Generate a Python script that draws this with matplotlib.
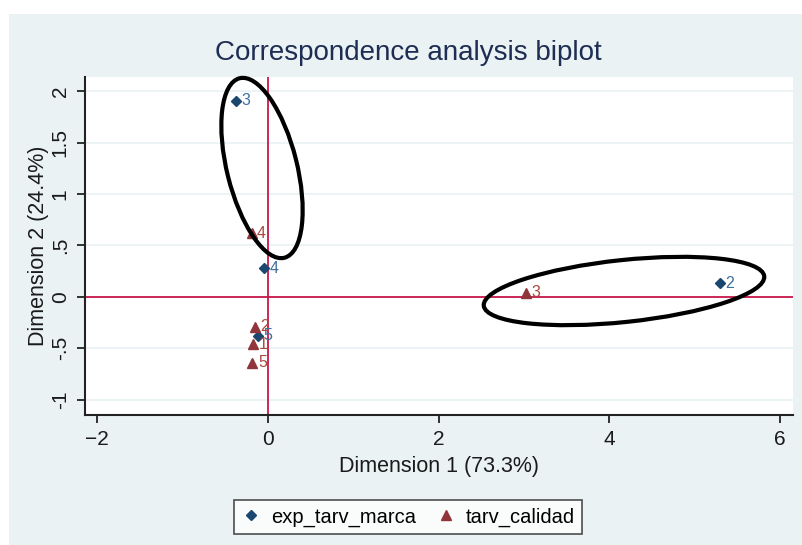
import matplotlib.pyplot as plt
from matplotlib.patches import Ellipse, Rectangle

plt.rcParams['font.family'] = ['Liberation Sans', 'DejaVu Sans']

# exp_tarv_marca (row points)
marca_lbl = ['3', '4', '5', '2']
marca_x = [-0.37, -0.04, -0.12, 5.29]
marca_y = [1.91, 0.28, -0.38, 0.13]

# tarv_calidad (column points)
calidad_lbl = ['4', '3', '2', '1', '5']
calidad_x = [-0.19, 3.02, -0.15, -0.17, -0.18]
calidad_y = [0.62, 0.04, -0.29, -0.46, -0.64]

xticks = [-2, 0, 2, 4, 6]
yticks = [-1, -0.5, 0, 0.5, 1, 1.5, 2]
ytick_lbl = ['-1', '-.5', '0', '.5', '1', '1.5', '2']

blue = '#1a476f'
red = '#90353b'
ref = '#c8174a'

fig = plt.figure(figsize=(8.02, 5.45), dpi=100)
fig.patch.set_facecolor('white')
fig.add_artist(Rectangle((9 / 802, 0), 1, (545 - 14) / 545, transform=fig.transFigure,
                         facecolor='#eaf2f3', edgecolor='none', zorder=-5))

ax = fig.add_axes([85 / 802, (545 - 415) / 545, (793 - 85) / 802, (415 - 77) / 545])
ax.set_facecolor('white')
ax.set_xlim(-2.14, 6.15)
ax.set_ylim(-1.15, 2.14)

for y in yticks:
    ax.axhline(y, color='#eaf2f3', lw=1.2, zorder=0)
ax.axhline(0, color=ref, lw=1.3, zorder=1)
ax.axvline(0, color=ref, lw=1.3, zorder=1)

ax.plot(marca_x, marca_y, 'D', color=blue, ms=5.5, ls='none', zorder=3, label='exp_tarv_marca')
ax.plot(calidad_x, calidad_y, '^', color=red, ms=7, ls='none', zorder=3, label='tarv_calidad')

for x, y, t in zip(marca_x, marca_y, marca_lbl):
    ax.annotate(t, (x, y), xytext=(4, 0), textcoords='offset points', va='center',
                ha='left', color='#3f6f9f', fontsize=11.5, zorder=4)
for x, y, t in zip(calidad_x, calidad_y, calidad_lbl):
    ax.annotate(t, (x, y), xytext=(4, 0), textcoords='offset points', va='center',
                ha='left', color='#a9483d', fontsize=11.5, zorder=4)

ax.set_xticks(xticks)
ax.set_yticks(yticks)
ax.set_yticklabels(ytick_lbl, rotation=90, va='center')
ax.tick_params(direction='out', length=6, width=1.3, colors='#222222', labelsize=15,
               labelcolor='#1a1a1a')
ax.tick_params(axis='y', pad=5)
ax.tick_params(axis='x', pad=5)
for s in ['top', 'right']:
    ax.spines[s].set_visible(False)
for s in ['left', 'bottom']:
    ax.spines[s].set_linewidth(1.5)
    ax.spines[s].set_color('#222222')

ax.set_xlabel('Dimension 1 (73.3%)', fontsize=15.5, color='#1a1a1a', labelpad=5)
ax.set_ylabel('Dimension 2 (24.4%)', fontsize=15.5, color='#1a1a1a', labelpad=1)
fig.text(408 / 802, (545 - 53) / 545, 'Correspondence analysis biplot', ha='center',
         va='center', fontsize=20, color='#1e2d53')

leg = fig.legend(loc='center', bbox_to_anchor=(408 / 802, (545 - 517) / 545), ncol=2,
                 fontsize=14.5, frameon=True, fancybox=False, edgecolor='#222222',
                 handletextpad=0.5, columnspacing=1.0, borderpad=0.35, handlelength=1.0)
leg.get_frame().set_linewidth(1.2)
leg.get_frame().set_facecolor('white')

# hand-drawn highlight ellipses (pixel positions in inches)
fig.add_artist(Ellipse((2.62, 3.77), 1.85, 0.70, angle=104, transform=fig.dpi_scale_trans,
                       fill=False, edgecolor='black', lw=3, zorder=10))
fig.add_artist(Ellipse((6.24, 2.54), 2.82, 0.62, angle=6, transform=fig.dpi_scale_trans,
                       fill=False, edgecolor='black', lw=3, zorder=10))

fig.savefig('out.png', dpi=100)
